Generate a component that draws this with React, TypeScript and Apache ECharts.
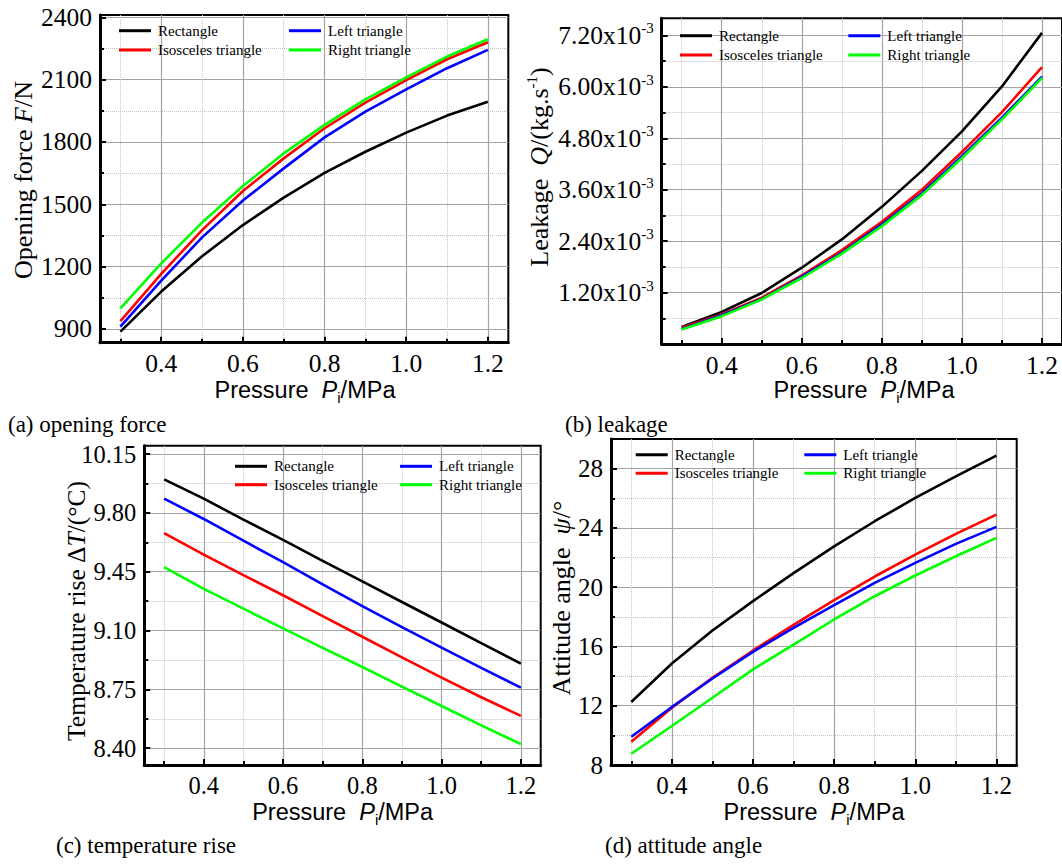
import React, { useEffect, useRef } from 'react';
import * as echarts from 'echarts';

const SERIF = "'Liberation Serif', 'Times New Roman', serif";
const SANS = "'Liberation Sans', Arial, sans-serif";

// ---------- data ----------
const pressure = [0.3, 0.4, 0.5, 0.6, 0.7, 0.8, 0.9, 1.0, 1.1, 1.2];
const seriesNames = ['Rectangle', 'Isosceles triangle', 'Left triangle', 'Right triangle'];
const seriesColors = ['#000000', '#ff0000', '#0000ff', '#00ff00'];

// (a) opening force F/N
const forceRect = [887, 1080, 1250, 1400, 1532, 1651, 1753, 1845, 1927, 1994];
const forceIsosceles = [938, 1165, 1376, 1564, 1721, 1866, 1989, 2098, 2198, 2280];
const forceLeft = [911, 1133, 1341, 1518, 1673, 1822, 1946, 2053, 2155, 2243];
const forceRight = [999, 1216, 1412, 1588, 1745, 1882, 2005, 2111, 2211, 2294];

// (b) leakage Q (kg/s)
const leakRect = [0.40e-3, 0.75e-3, 1.19e-3, 1.78e-3, 2.44e-3, 3.20e-3, 4.04e-3, 4.96e-3, 6.01e-3, 7.26e-3];
const leakIsosceles = [0.38e-3, 0.69e-3, 1.08e-3, 1.60e-3, 2.19e-3, 2.85e-3, 3.60e-3, 4.48e-3, 5.41e-3, 6.46e-3];
const leakLeft = [0.35e-3, 0.67e-3, 1.05e-3, 1.57e-3, 2.13e-3, 2.79e-3, 3.52e-3, 4.38e-3, 5.28e-3, 6.24e-3];
const leakRight = [0.34e-3, 0.65e-3, 1.04e-3, 1.54e-3, 2.11e-3, 2.75e-3, 3.48e-3, 4.34e-3, 5.24e-3, 6.21e-3];

// (c) temperature rise (°C)
const tempRect = [10.0, 9.885, 9.76, 9.64, 9.515, 9.393, 9.27, 9.148, 9.025, 8.903];
const tempIsosceles = [9.68, 9.552, 9.43, 9.31, 9.186, 9.063, 8.94, 8.82, 8.703, 8.592];
const tempLeft = [9.885, 9.764, 9.635, 9.507, 9.375, 9.245, 9.12, 8.998, 8.878, 8.76];
const tempRight = [9.477, 9.348, 9.23, 9.113, 8.997, 8.883, 8.766, 8.651, 8.536, 8.424];

// (d) attitude angle (°)
const angleRect = [12.25, 14.85, 17.08, 19.06, 20.95, 22.75, 24.45, 26.02, 27.48, 28.88];
const angleIsosceles = [9.57, 11.87, 13.89, 15.73, 17.45, 19.12, 20.72, 22.2, 23.6, 24.9];
const angleLeft = [9.91, 11.91, 13.84, 15.64, 17.25, 18.79, 20.29, 21.64, 22.92, 24.07];
const angleRight = [8.76, 10.63, 12.54, 14.45, 16.13, 17.82, 19.39, 20.79, 22.09, 23.33];

// tick values
const xMajorTicks = [0.4, 0.6, 0.8, 1.0, 1.2];
const xMinorTicks = [0.3, 0.5, 0.7, 0.9, 1.1];
const forceMajorTicks = [900, 1200, 1500, 1800, 2100, 2400];
const forceMinorTicks = [1050, 1350, 1650, 1950, 2250];
const leakMajorTicks = [1.2e-3, 2.4e-3, 3.6e-3, 4.8e-3, 6.0e-3, 7.2e-3];
const leakMinorTicks = [0.6e-3, 1.8e-3, 3.0e-3, 4.2e-3, 5.4e-3, 6.6e-3];
const tempMajorTicks = [8.4, 8.75, 9.1, 9.45, 9.8, 10.15];
const tempMinorTicks = [8.575, 8.925, 9.275, 9.625, 9.975];
const angleMajorTicks = [8, 12, 16, 20, 24, 28];
const angleMinorTicks = [10, 14, 18, 22, 26];

// ---------- layout ----------
type Panel = {
  grid: { left: number; top: number; width: number; height: number };
  yMin: number;
  yMax: number;
  yMajor: number[];
  yMinor: number[];
  fmt: (v: number) => string;
  rich?: any;
  data: number[][];
  legendCols: number[];
  legendRows: number[];
  labelSize: number;
};

const panels: Panel[] = [
  {
    grid: { left: 100, top: 15, width: 408.3, height: 327.7 },
    yMin: 834, yMax: 2411, yMajor: forceMajorTicks, yMinor: forceMinorTicks,
    fmt: (v) => String(Math.round(v)),
    data: [forceRect, forceIsosceles, forceLeft, forceRight],
    legendCols: [119, 289], legendRows: [31.7, 51], labelSize: 25.5,
  },
  {
    grid: { left: 661.7, top: 18.3, width: 405.2, height: 325.7 },
    yMin: 0, yMax: 7.6e-3, yMajor: leakMajorTicks, yMinor: leakMinorTicks,
    fmt: (v) => `{m|${(v * 1000).toFixed(2)}x10}{s|-3}`,
    rich: {
      m: { fontSize: 25.5, fontFamily: SERIF, color: '#000' },
      s: { fontSize: 15, fontFamily: SERIF, color: '#000', padding: [0, 0, 14, 0] },
    },
    data: [leakRect, leakIsosceles, leakLeft, leakRight],
    legendCols: [680, 848.3], legendRows: [36.7, 56], labelSize: 25.5,
  },
  {
    grid: { left: 144.3, top: 445.7, width: 396.4, height: 319.3 },
    yMin: 8.3, yMax: 10.2, yMajor: tempMajorTicks, yMinor: tempMinorTicks,
    fmt: (v) => v.toFixed(2),
    data: [tempRect, tempIsosceles, tempLeft, tempRight],
    legendCols: [235, 400], legendRows: [467.3, 485.7], labelSize: 24.5,
  },
  {
    grid: { left: 611, top: 439, width: 405.7, height: 326 },
    yMin: 8, yMax: 30, yMajor: angleMajorTicks, yMinor: angleMinorTicks,
    fmt: (v) => String(Math.round(v)),
    data: [angleRect, angleIsosceles, angleLeft, angleRight],
    legendCols: [635.7, 804.3], legendRows: [455.7, 474.3], labelSize: 25,
  },
];

const MAJOR_GRID = '#a4a4a4';
const MINOR_GRID = '#c4c4c4';

function buildOption() {
  const grids: any[] = [];
  const xAxes: any[] = [];
  const yAxes: any[] = [];
  const series: any[] = [];
  const legends: any[] = [];

  panels.forEach((p, pi) => {
    grids.push({
      ...p.grid,
      show: true,
      borderColor: '#000',
      borderWidth: 2,
      backgroundColor: 'transparent',
      containLabel: false,
    });
    // major x axis
    xAxes.push({
      type: 'value', gridIndex: pi, position: 'bottom', min: 0.25, max: 1.25,
      axisLine: { show: true, onZero: false, lineStyle: { color: '#000', width: 3 } },
      axisTick: { show: true, inside: true, length: 6, customValues: xMajorTicks, lineStyle: { color: '#000', width: 2 } },
      axisLabel: {
        show: true, customValues: xMajorTicks, margin: 8, color: '#000',
        fontFamily: SERIF, fontSize: p.labelSize, formatter: (v: number) => v.toFixed(1),
      },
      splitLine: { show: true, lineStyle: { color: MAJOR_GRID, width: 1.2 } },
    });
    // minor x axis
    xAxes.push({
      type: 'value', gridIndex: pi, position: 'bottom', min: 0.25, max: 1.25,
      axisLine: { show: false, onZero: false },
      axisTick: { show: true, inside: true, length: 4, customValues: xMinorTicks, lineStyle: { color: '#000', width: 2 } },
      axisLabel: { show: false, customValues: xMinorTicks },
      splitLine: { show: true, lineStyle: { color: MINOR_GRID, width: 1, type: 'dotted' } },
    });
    // major y axis
    yAxes.push({
      type: 'value', gridIndex: pi, position: 'left', min: p.yMin, max: p.yMax,
      axisLine: { show: true, onZero: false, lineStyle: { color: '#000', width: 3 } },
      axisTick: { show: true, inside: true, length: 6, customValues: p.yMajor, lineStyle: { color: '#000', width: 2 } },
      axisLabel: {
        show: true, customValues: p.yMajor, margin: 8, color: '#000',
        fontFamily: SERIF, fontSize: p.labelSize, formatter: p.fmt, rich: p.rich,
      },
      splitLine: { show: true, lineStyle: { color: MAJOR_GRID, width: 1.2 } },
    });
    // minor y axis
    yAxes.push({
      type: 'value', gridIndex: pi, position: 'left', min: p.yMin, max: p.yMax,
      axisLine: { show: false, onZero: false },
      axisTick: { show: true, inside: true, length: 4, customValues: p.yMinor, lineStyle: { color: '#000', width: 2 } },
      axisLabel: { show: false, customValues: p.yMinor },
      splitLine: { show: true, lineStyle: { color: MINOR_GRID, width: 1, type: 'dotted' } },
    });

    seriesNames.forEach((name, si) => {
      series.push({
        type: 'line',
        name,
        xAxisIndex: pi * 2,
        yAxisIndex: pi * 2,
        data: pressure.map((x, i) => [x, p.data[si][i]]),
        symbol: 'none',
        showSymbol: false,
        smooth: false,
        lineStyle: { color: seriesColors[si], width: 2.6, join: 'round' },
        itemStyle: { color: seriesColors[si] },
        z: 3 + si,
        silent: true,
      });
    });

    // legend placement: Rectangle & Left triangle on row 1; Isosceles & Right on row 2
    const slots: [string, number, number][] = [
      ['Rectangle', p.legendCols[0], p.legendRows[0]],
      ['Left triangle', p.legendCols[1], p.legendRows[0]],
      ['Isosceles triangle', p.legendCols[0], p.legendRows[1]],
      ['Right triangle', p.legendCols[1], p.legendRows[1]],
    ];
    slots.forEach(([name, lx, ly]) => {
      legends.push({
        show: true,
        selectedMode: false,
        data: [name],
        left: lx,
        top: ly - 8.5,
        padding: 0,
        itemGap: 0,
        icon: 'rect',
        itemWidth: 32,
        itemHeight: 3,
        textStyle: { color: '#000', fontFamily: SERIF, fontSize: 15, padding: [0, 0, 0, 2] },
      });
    });
  });

  const titleRich = (size: number, fam: string) => ({
    n: { fontSize: size, fontFamily: fam, fill: '#000' },
    i: { fontSize: size, fontFamily: fam, fontStyle: 'italic', fill: '#000' },
    s: { fontSize: 15, fontFamily: fam, fill: '#000', padding: [0, 0, 14, 0] },
    sub: { fontSize: 15, fontFamily: fam, fill: '#000', padding: [14, 0, 0, 0] },
  });

  const text = (x: number, y: number, t: string, size: number, fam: string, rotation = 0, align = 'center') => ({
    type: 'text',
    x, y, rotation,
    silent: true,
    style: {
      text: t,
      rich: titleRich(size, fam),
      fontSize: size,
      fontFamily: fam,
      fill: '#000',
      align,
      verticalAlign: 'middle',
      textAlign: align,
      textVerticalAlign: 'middle',
    },
  });

  const xTitle = '{n|Pressure  }{i|P}{sub|i}{n|/MPa}';
  const graphics = [
    // y-axis titles
    text(23, 180, '{n|Opening force }{i|F}{n|/N}', 26, SERIF, Math.PI / 2),
    text(539, 167, '{n|Leakage  }{i|Q}{n|/(kg.s}{s|-1}{n|)}', 26, SERIF, Math.PI / 2),
    text(76, 611, '{n|Temperature rise Δ}{i|T}{n|/(°C)}', 25.5, SERIF, Math.PI / 2),
    text(561, 598, '{n|Attitude angle  }{i|ψ}{n|/°}', 26, SERIF, Math.PI / 2),
    // x-axis titles
    text(305, 390, xTitle, 23.5, SANS),
    text(864, 390, xTitle, 23.5, SANS),
    text(342.6, 812, xTitle, 23.5, SANS),
    text(814, 812, xTitle, 23.5, SANS),
    // captions
    text(8, 424, '{n|(a) opening force}', 23, SERIF, 0, 'left'),
    text(565, 424, '{n|(b) leakage}', 23, SERIF, 0, 'left'),
    text(56, 845, '{n|(c) temperature rise}', 23, SERIF, 0, 'left'),
    text(605, 845, '{n|(d) attitude angle}', 23, SERIF, 0, 'left'),
  ];

  return {
    animation: false,
    backgroundColor: '#ffffff',
    grid: grids,
    xAxis: xAxes,
    yAxis: yAxes,
    legend: legends,
    series,
    graphic: { elements: graphics },
  };
}

export default function App() {
  const ref = useRef<HTMLDivElement>(null);
  useEffect(() => {
    if (!ref.current) return;
    const chart = echarts.init(ref.current, undefined, { renderer: 'svg', width: 1062, height: 864 });
    chart.setOption(buildOption() as any);
    return () => {
      chart.dispose();
    };
  }, []);
  return (
    <div
      ref={ref}
      style={{ position: 'absolute', left: 0, top: 0, width: 1062, height: 864, background: '#fff' }}
    />
  );
}
